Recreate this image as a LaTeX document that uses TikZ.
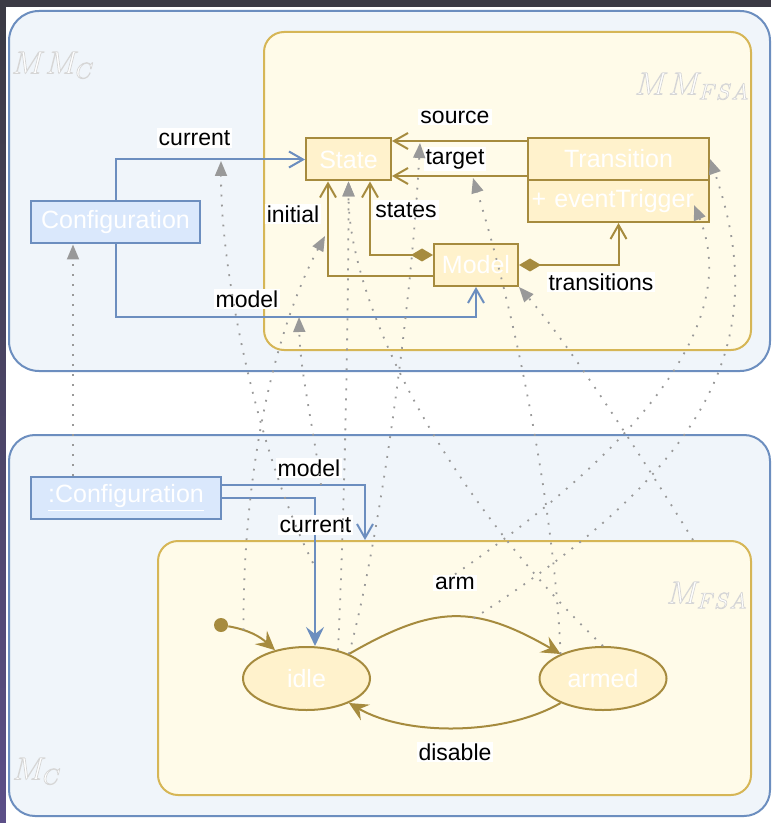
\RequirePackage{fix-cm}
\documentclass[tikz,border=0pt]{standalone}
\usepackage{fontspec}
\setmainfont{Liberation Sans}
\usetikzlibrary{arrows.meta,calc,shapes.geometric}

\definecolor{bluefill}{HTML}{DAE8FC}
\definecolor{bluedraw}{HTML}{6C8EBF}
\definecolor{paleblue}{HTML}{F0F5FA}
\definecolor{paleyellow}{HTML}{FFFBE9}
\definecolor{yellowfill}{HTML}{FFF2CC}
\definecolor{yellowdraw}{HTML}{D6B656}
\definecolor{clsdraw}{HTML}{A68B3E}
\definecolor{instgray}{HTML}{999999}
\definecolor{ghost}{HTML}{DADADA}
\definecolor{framedark}{HTML}{3B3A44}
\definecolor{framepurple}{HTML}{5C4F88}

\newcommand{\clsfont}{\fontsize{12.5}{15}\selectfont}
\newcommand{\lblfont}{\fontsize{11.5}{13}\selectfont}
\newcommand{\ghostfont}{\fontsize{16}{19}\selectfont}
\newcommand{\ghosttext}[1]{\special{pdf:literal direct 2 Tr 0.35 w 0.84 0.84 0.84 RG}#1\special{pdf:literal direct 0 Tr}}

\begin{document}
\begin{tikzpicture}[x=0.5pt,y=0.5pt,
	box/.style={draw=#1,line width=1pt,inner sep=0pt},
	cls/.style={box=clsdraw,fill=yellowfill,text=white,font=\clsfont,minimum height=21pt},
	cfg/.style={box=bluedraw,fill=bluefill,text=white,font=\clsfont,minimum height=21pt},
	stt/.style={box=clsdraw,fill=yellowfill,text=white,font=\clsfont,ellipse,minimum width=63.5pt,minimum height=31.5pt},
	lbl/.style={fill=white,inner sep=1pt,font=\lblfont},
	ghostlbl/.style={text=white,font=\ghostfont,inner sep=0pt},
	assoc/.style={draw=clsdraw,line width=1pt,-{Straight Barb[length=7pt,width=8pt]}},
	comp/.style={assoc,{Diamond[length=11pt,width=6.5pt]}-{Straight Barb[length=7pt,width=8pt]}},
	fsatrans/.style={draw=clsdraw,line width=1pt,-{Stealth[length=9.5pt,width=9pt,inset=3.5pt]}},
	inst/.style={draw=instgray,line width=0.9pt,dash pattern=on 0.9pt off 4.1pt,-{Triangle[length=7.5pt,width=6pt]}}]
	%\draw[help lines] (0,0) grid (771,-823);
	\useasboundingbox (0,0) rectangle (771,-823);
	\fill[framedark] (0,0) rectangle (771,-823);
	\shade[top color=framedark,bottom color=framepurple] (0,-7) rectangle (6,-823);
	\fill[white] (6,-7) rectangle (771,-823);

	% containers
	\node[box=bluedraw,fill=paleblue,rounded corners=15pt,minimum width=380.5pt,minimum height=180pt] (mmc) at (389.5,-191) {};
	\node[box=yellowdraw,fill=paleyellow,rounded corners=10pt,minimum width=243.5pt,minimum height=159pt] (mmfsa) at (507.5,-191) {};
	\node[box=bluedraw,fill=paleblue,rounded corners=13pt,minimum width=380.5pt,minimum height=190.5pt] (mc) at (389.5,-625.5) {};
	\node[box=yellowdraw,fill=paleyellow,rounded corners=10pt,minimum width=296.5pt,minimum height=127pt] (mfsa) at (454.5,-668) {};
	\node[ghostlbl] (mmclbl) at (53,-65) {\ghosttext{$MM_C$}};
	\node[ghostlbl] (mmfsalbl) at (692,-86) {\ghosttext{$MM_{FSA}$}};
	\node[ghostlbl] (mclbl) at (37,-771) {\ghosttext{$M_C$}};
	\node[ghostlbl] (mfsalbl) at (707,-595) {\ghosttext{$M_{FSA}$}};

	% metamodel
	\node[cls,minimum width=42.5pt] (state) at (348.5,-159.5) {State};
	\node[cls,minimum width=90.5pt] (trans) at (618.5,-159) {Transition};
	\node[cls,minimum width=90.5pt,text width=87pt,align=left] (trig) at (618.5,-201) {+ eventTrigger};
	\node[cls,minimum width=42pt] (model) at (476,-265) {Model};
	\node[cfg,minimum width=84.5pt] (conf) at (115.5,-222.5) {Configuration};

	\draw[assoc,draw=bluedraw] (conf.north) |- (state.west);
	\draw[assoc,draw=bluedraw] (conf.south) |- ($(model.south)+(0,-30)$) -- (model.south);
	\draw[assoc] ($(model.west)+(0,-11)$) -| ($(state.south)+(-20.5,0)$);
	\draw[comp] ($(model.west)+(0,10)$) -| ($(state.south)+(21.5,0)$);
	\draw[assoc] ($(trans.west)+(0,18)$) -- ($(state.east)+(0,18.5)$);
	\draw[assoc] ($(trans.west)+(0,-17)$) -- ($(state.east)+(0,-16.5)$);
	\draw[comp] (model.east) -| (trig.south);

	\node[lbl] (curlbl) at (194.5,-138) {current};
	\node[lbl] (modlbl) at (247,-299) {model};
	\node[lbl] (initlbl) at (293,-214) {initial};
	\node[lbl] (stateslbl) at (406,-210) {states};
	\node[lbl] (srclbl) at (455,-117) {source};
	\node[lbl] (tgtlbl) at (455,-159) {target};
	\node[lbl] (translbl) at (601,-282) {transitions};

	% model
	\node[cfg,minimum width=95pt] (cfginst) at (126,-498) {\underline{:Configuration}};
	\node[stt] (idle) at (306.5,-678.5) {idle};
	\node[stt] (armed) at (603,-678.5) {armed};
	\node[circle,fill=clsdraw,minimum size=7pt,inner sep=0pt] (init) at (221,-625) {};

	\draw[assoc,draw=bluedraw] ($(cfginst.east)+(0,13)$) -| ($(mfsa.north west)+(208,0)$);
	\draw[fsatrans,draw=bluedraw] (cfginst.east) -| ($(idle.north)+(8.5,0)$);
	\draw[fsatrans] (init) to[out=-10,in=138] coordinate[pos=0.28] (initarc) (idle);
	\draw[fsatrans] (idle) to[out=30,in=150,looseness=1.2] coordinate[pos=0.6] (armarc) (armed);
	\draw[fsatrans] (armed) to[out=-150,in=-30,looseness=0.8] (idle);

	\node[lbl] (instmodlbl) at (309,-468) {model};
	\node[lbl] (instcurlbl) at (315.5,-525) {current};
	\node[lbl] (armlbl) at (455,-583) {arm};
	\node[lbl] (dislbl) at (455,-752) {disable};

	% instance of
	\coordinate (curlink) at (313,-563);
	\coordinate (curassoc) at (221,-161);
	\coordinate (initassoc) at (325,-236);
	\coordinate (modlink) at (321,-485);
	\coordinate (modassoc) at (299,-317);
	\coordinate (srcassoc) at (420,-143);
	\coordinate (tgtassoc) at (473,-178);
	\coordinate (trigend) at (694,-205);
	\draw[inst] ($(cfginst.north)+(-53,0)$) -- ($(conf.south)+(-42.5,0)$);
	\draw[inst] (curlink) .. controls (265,-470) and (221,-290) .. (curassoc);
	\draw[inst] (initarc) .. controls (243,-440) and (285,-310) .. (initassoc);
	\draw[inst] (modlink) .. controls (312,-420) and (300,-370) .. (modassoc);
	\draw[inst] (idle.42) .. controls (345,-500) and (348.5,-300) .. (state.south);
	\draw[inst] (armed.north) .. controls (440,-490) and (348.5,-300) .. (state.south);
	\draw[inst] (idle.30) .. controls (375,-560) and (410,-330) .. (srcassoc);
	\draw[inst] (armed.150) .. controls (555,-520) and (520,-330) .. (tgtassoc);
	\draw[inst] ($(mfsa.north east)+(-59,0)$) .. controls (650,-470) and (570,-345) .. (model.south east);
	\draw[inst] (armarc) .. controls (711,-465) and (773,-341) .. (trans.east);
	\draw[inst] (armlbl.north) .. controls (599,-475) and (749,-338) .. (trigend);
\end{tikzpicture}
\end{document}
